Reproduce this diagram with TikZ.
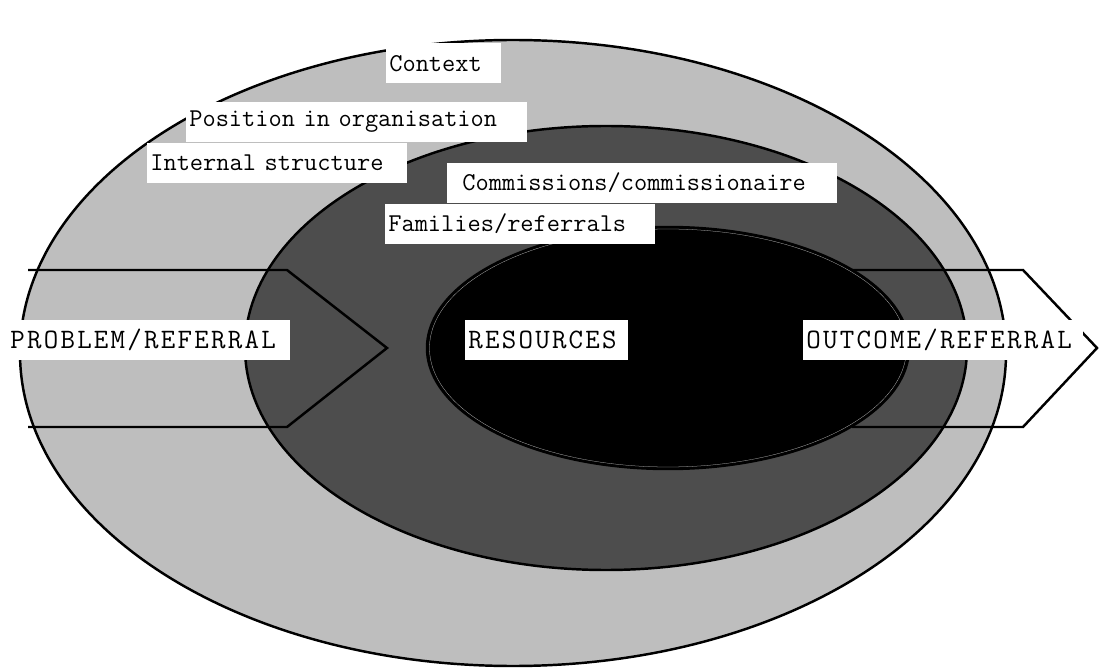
\documentclass[tikz,border=0pt]{standalone}
\usepackage{fontspec}
\newfontfamily\labelfont{Latin Modern Mono}
\newfontfamily\capsfont[LetterSpace=8]{Latin Modern Mono}
\usepackage{tikz}
\usetikzlibrary{positioning}
\definecolor{ctxgray}{HTML}{BEBEBE}
\definecolor{orggray}{HTML}{4D4D4D}

\tikzset{
  ring/.style={draw=black, line width=1.4pt},
  flowline/.style={black, line width=1.4pt, line join=miter},
  tag/.style={fill=white, anchor=west, inner xsep=0.06cm, inner ysep=0pt,
    minimum height=0.8cm, align=left, font=\fontsize{14.6}{15}\labelfont},
  captag/.style={tag, font=\fontsize{16}{16}\capsfont}
}

\begin{document}
\begin{tikzpicture}[x=1cm, y=1cm]
  \useasboundingbox (0,0) rectangle (21.98,13.42);

  %% Rings: context, organisation, resources
  \fill[ctxgray, ring] (10.26,6.36) ellipse (9.86 and 6.26);
  \fill[orggray, ring] (12.12,6.46) ellipse (7.22 and 4.44);
  \fill[black, ring] (13.36,6.46) ellipse (4.82 and 2.42);
  \draw[gray!50, line width=0.15pt] (13.36,6.46) ellipse (4.77 and 2.38);

  %% Flow in and out
  \draw[flowline] (0.56,8.02) -- (5.74,8.02) -- (7.74,6.46) -- (5.74,4.88) -- (0.56,4.88);
  \draw[flowline] (17.04,8.02) -- (20.46,8.02) -- (21.94,6.46) -- (20.46,4.88) -- (17.04,4.88);

  %% Labels
  \node[tag, text width=2.18cm] (context) at (7.72,12.15) {Context};
  \node[tag, text width=6.70cm] (position) at (3.72,10.98) {Position in organisation};
  \node[tag, text width=5.08cm] (internal) at (2.94,10.16) {Internal structure};
  \node[tag, text width=7.68cm] (commissions) at (8.94,9.76)
    {\hspace*{0.24cm}\mbox{Commissions/commissionaire}};
  \node[tag, text width=5.28cm] (families) at (7.70,8.94) {Families/referrals};
  \node[captag, text width=5.68cm] (problem) at (0.00,6.62) {\hspace*{0.14cm}PROBLEM/REFERRAL};
  \node[captag, text width=3.14cm] (resources) at (9.30,6.62) {RESOURCES};
  \node[captag, text width=5.48cm] (outcome) at (16.06,6.62) {OUTCOME/REFERRAL};

\end{tikzpicture}
\end{document}
